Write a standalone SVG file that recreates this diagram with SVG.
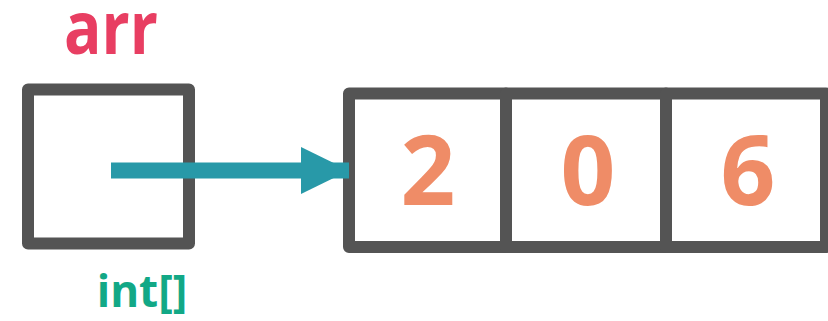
<svg xmlns="http://www.w3.org/2000/svg" width="828" height="321" viewBox="0 0 828 321">
<style>
.box{fill:#fff;stroke:#545454;stroke-width:12;stroke-linejoin:round}
.num{font-family:"Open Sans","Noto Sans",sans-serif;font-weight:bold;font-size:96px;fill:#ef8c67;text-anchor:middle}
</style>
<defs>
<marker id="ah" markerUnits="userSpaceOnUse" markerWidth="50" markerHeight="50" refX="48" refY="24" orient="auto">
<path d="M0,0.5 L48,24 L0,47.5 Z" fill="#2899a8"/>
</marker>
</defs>
<g id="arr-var">
<rect class="box" x="28" y="89.5" width="161" height="154"/>
<text x="64" y="53.5" textLength="94" lengthAdjust="spacingAndGlyphs" font-family="'Open Sans','Noto Sans',sans-serif" font-weight="bold" font-size="73" fill="#e83e62">arr</text>
<text x="142" y="307" font-family="'Open Sans','Noto Sans',sans-serif" font-weight="bold" font-size="44" fill="#12a886" text-anchor="middle">int[]</text>
</g>
<g id="array">
<rect class="box" x="349" y="93.5" width="157" height="153.5"/>
<rect class="box" x="506" y="93.5" width="160" height="153.5"/>
<rect class="box" x="666" y="93.5" width="160" height="153.5"/>
<text class="num" x="428" y="205">2</text>
<text class="num" x="588" y="205">0</text>
<text class="num" x="748" y="205">6</text>
</g>
<g id="connectors">
<line x1="111" y1="170.5" x2="349" y2="170.5" stroke="#2899a8" stroke-width="16" marker-end="url(#ah)"/>
</g>
</svg>
